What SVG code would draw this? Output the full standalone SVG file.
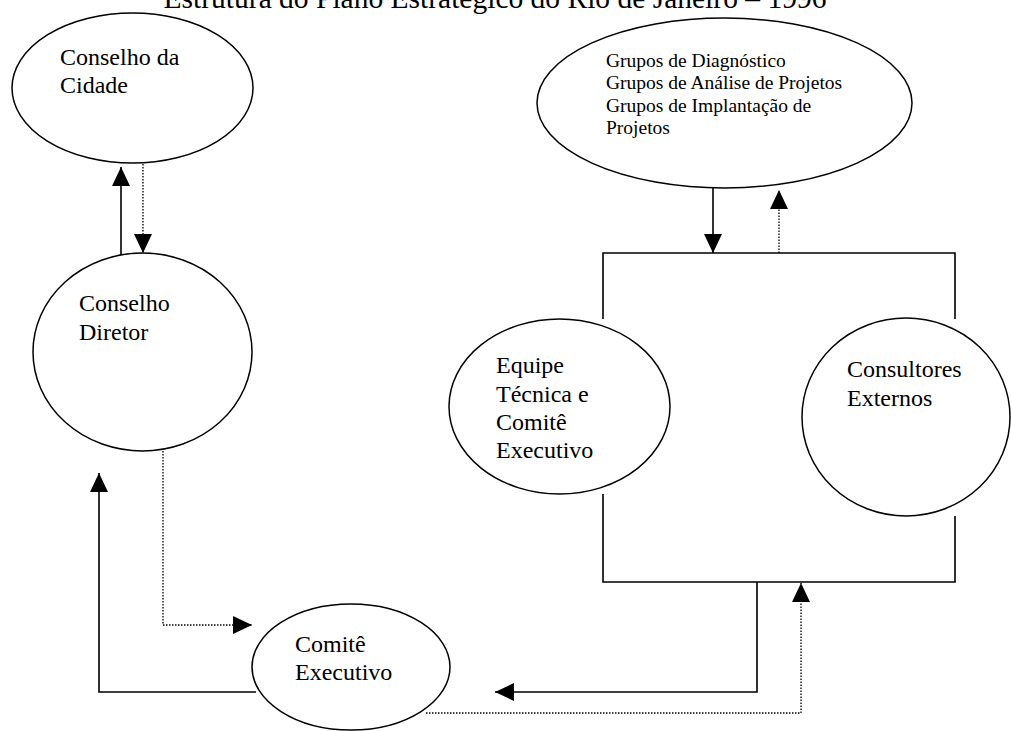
<svg xmlns="http://www.w3.org/2000/svg" width="1011" height="731" viewBox="0 0 1011 731">
<style>
  .node { fill: #fff; stroke: #000; stroke-width: 1.5; }
  .t { font-family: "Liberation Serif", "Times New Roman", serif; font-size: 24px; fill: #000; }
  .ts { font-family: "Liberation Serif", "Times New Roman", serif; font-size: 19.5px; fill: #000; }
  .title { font-family: "Liberation Serif", "Times New Roman", serif; font-size: 29.5px; fill: #000; }
  .solid { fill: none; stroke: #000; stroke-width: 1.6; }
  .dot { fill: none; stroke: #000; stroke-width: 1.3; stroke-dasharray: 1.5 1.5; }
  .frame { fill: none; stroke: #000; stroke-width: 1.6; }
</style>
<defs>
  <marker id="ah" markerUnits="userSpaceOnUse" markerWidth="20" markerHeight="20" refX="19" refY="9" orient="auto" viewBox="0 0 20 18">
    <path d="M0,0 L19,9 L0,18 z" fill="#000"/>
  </marker>
</defs>
<rect width="1011" height="731" fill="#fff"/>
<text class="title" x="495" y="8" text-anchor="middle">Estrutura do Plano Estratégico do Rio de Janeiro – 1996</text>

<g id="frame">
  <path class="frame" d="M603,319 L603,253 L955,253 L955,319"/>
  <path class="frame" d="M603,494 L603,582 L955,582 L955,516"/>
</g>

<g id="connectors">
  <path class="solid" d="M121,255 L121,167" marker-end="url(#ah)"/>
  <path class="dot" d="M143,164 L143,253" marker-end="url(#ah)"/>
  <path class="solid" d="M256,692 L99,692 L99,473" marker-end="url(#ah)"/>
  <path class="dot" d="M163,451 L163,625 L252,625" marker-end="url(#ah)"/>
  <path class="solid" d="M713,188 L713,253" marker-end="url(#ah)"/>
  <path class="dot" d="M779,253 L779,190" marker-end="url(#ah)"/>
  <path class="solid" d="M757,582 L757,692 L495,692" marker-end="url(#ah)"/>
  <path class="dot" d="M426,713 L801,713 L801,583" marker-end="url(#ah)"/>
</g>

<g id="conselho-cidade">
  <ellipse class="node" cx="132.5" cy="88" rx="120.5" ry="75"/>
  <text class="t" x="60" y="65">Conselho da</text>
  <text class="t" x="60" y="93">Cidade</text>
</g>

<g id="conselho-diretor">
  <ellipse class="node" cx="142.5" cy="352" rx="109.5" ry="99"/>
  <text class="t" x="79" y="311">Conselho</text>
  <text class="t" x="79" y="340">Diretor</text>
</g>

<g id="grupos">
  <ellipse class="node" cx="724.5" cy="103" rx="187.5" ry="85"/>
  <text class="ts" x="606" y="67">Grupos de Diagnóstico</text>
  <text class="ts" x="606" y="89">Grupos de Análise de Projetos</text>
  <text class="ts" x="606" y="112">Grupos de Implantação de</text>
  <text class="ts" x="606" y="134">Projetos</text>
</g>

<g id="equipe-tecnica">
  <ellipse class="node" cx="559.5" cy="406.5" rx="110.5" ry="87.5"/>
  <text class="t" x="496" y="373">Equipe</text>
  <text class="t" x="496" y="402">Técnica e</text>
  <text class="t" x="496" y="430">Comitê</text>
  <text class="t" x="496" y="458">Executivo</text>
</g>

<g id="consultores">
  <ellipse class="node" cx="906" cy="417" rx="104" ry="99"/>
  <text class="t" x="847" y="377">Consultores</text>
  <text class="t" x="847" y="406">Externos</text>
</g>

<g id="comite-executivo">
  <ellipse class="node" cx="351" cy="667" rx="99" ry="63"/>
  <text class="t" x="295" y="652">Comitê</text>
  <text class="t" x="295" y="680">Executivo</text>
</g>
</svg>
